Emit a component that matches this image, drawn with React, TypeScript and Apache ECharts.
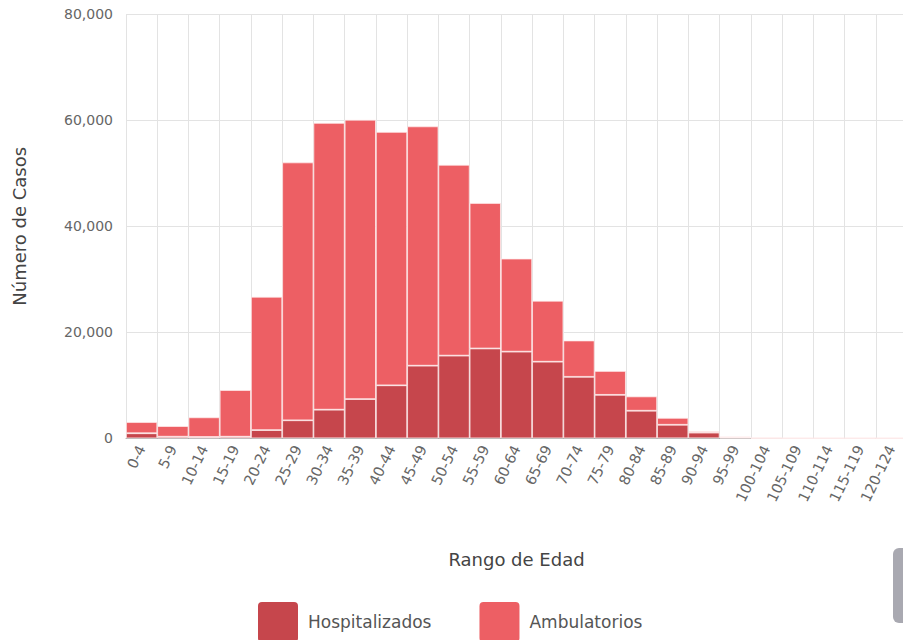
import React, { useEffect, useRef } from "react";
import * as echarts from "echarts";

const categories = [
  "0-4", "5-9", "10-14", "15-19", "20-24", "25-29", "30-34", "35-39", "40-44",
  "45-49", "50-54", "55-59", "60-64", "65-69", "70-74", "75-79", "80-84",
  "85-89", "90-94", "95-99", "100-104", "105-109", "110-114", "115-119", "120-124",
];

const hospitalizados = [
  950, 300, 250, 300, 1550, 3400, 5400, 7400, 10000, 13700, 15600, 16950,
  16350, 14450, 11600, 8200, 5200, 2550, 1070, 150, 20, 0, 0, 0, 0,
];

const ambulatorios = [
  2100, 2000, 3700, 8800, 25150, 48650, 54100, 52700, 47800, 45150, 36000,
  27450, 17550, 11500, 6850, 4500, 2700, 1300, 230, 150, 20, 0, 0, 0, 0,
];

const yTicks = [0, 20000, 40000, 60000, 80000];

const FONT = "'DejaVu Sans', 'Open Sans', sans-serif";
const SWATCH = "path://M4,0 H36 Q40,0 40,4 V36 Q40,40 36,40 H4 Q0,40 0,36 V4 Q0,0 4,0 Z";

export default function App() {
  const ref = useRef<HTMLDivElement>(null);

  useEffect(() => {
    if (!ref.current) return;
    const chart = echarts.init(ref.current, undefined, { renderer: "svg" });
    chart.setOption({
      animation: false,
      textStyle: { fontFamily: FONT },
      grid: { left: 126, right: 5, top: 14.3, bottom: 201.7, containLabel: false },
      legend: {
        left: 258,
        top: 602,
        padding: 0,
        icon: SWATCH,
        itemWidth: 40,
        itemHeight: 40,
        itemGap: 48,
        itemStyle: { borderWidth: 0 },
        textStyle: { fontSize: 17, color: "#555", fontFamily: FONT, padding: [0, 0, 0, 5] },
        data: ["Hospitalizados", "Ambulatorios"],
      },
      xAxis: {
        type: "category",
        data: categories,
        boundaryGap: true,
        name: "Rango de Edad",
        nameLocation: "middle",
        nameGap: 112,
        nameTextStyle: { fontSize: 18, color: "#444", fontFamily: FONT },
        axisLine: { show: true, lineStyle: { color: "#aaa", width: 1 } },
        axisTick: { show: false },
        axisLabel: {
          interval: 0,
          rotate: 64,
          fontSize: 14.5,
          color: "#666",
          margin: 8,
          fontFamily: FONT,
        },
        splitLine: { show: true, interval: 0, lineStyle: { color: "#e3e3e3", width: 1 } },
      },
      yAxis: {
        type: "value",
        min: yTicks[0],
        max: yTicks[yTicks.length - 1],
        interval: yTicks[1] - yTicks[0],
        name: "Número de Casos",
        nameLocation: "middle",
        nameGap: 98,
        nameTextStyle: { fontSize: 18, color: "#444", fontFamily: FONT },
        axisLine: { show: false },
        axisTick: { show: false },
        axisLabel: {
          fontSize: 14,
          color: "#666",
          margin: 13,
          fontFamily: FONT,
          formatter: (v: number) => v.toLocaleString("en-US"),
        },
        splitLine: { show: true, lineStyle: { color: "#e3e3e3", width: 1 } },
      },
      series: [
        {
          name: "Hospitalizados",
          type: "bar",
          stack: "total",
          data: hospitalizados,
          barCategoryGap: "0%",
          itemStyle: { color: "#c6464c", borderColor: "rgba(255,235,235,0.9)", borderWidth: 0.8 },
        },
        {
          name: "Ambulatorios",
          type: "bar",
          stack: "total",
          data: ambulatorios,
          barCategoryGap: "0%",
          itemStyle: { color: "#ed5f64", borderColor: "rgba(255,235,235,0.9)", borderWidth: 0.8 },
        },
      ],
      graphic: [
        {
          type: "rect",
          shape: { x: 893, y: 548, width: 16, height: 75, r: 6 },
          style: { fill: "#a9a9b1" },
        },
      ],
    });
    return () => chart.dispose();
  }, []);

  return (
    <div style={{ position: "fixed", left: 0, top: 0, width: 903, height: 640, overflow: "hidden", background: "#fff" }}>
      <div ref={ref} style={{ width: 912, height: 640 }} />
    </div>
  );
}
